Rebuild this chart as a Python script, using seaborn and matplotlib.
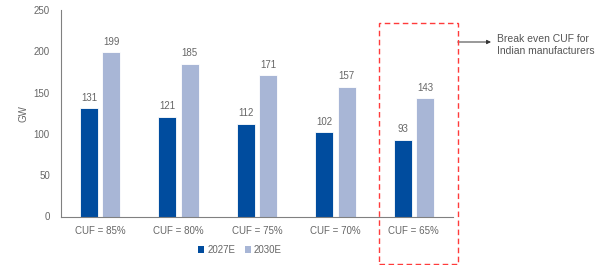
import matplotlib
matplotlib.use("Agg")
import matplotlib.pyplot as plt
import matplotlib.transforms as mtransforms
from matplotlib.patches import Rectangle, Patch
import seaborn as sns
import pandas as pd

categories = ["CUF = 85%", "CUF = 80%", "CUF = 75%", "CUF = 70%", "CUF = 65%"]
series_names = ["2027E", "2030E"]
values_2027 = [131, 121, 112, 102, 93]
values_2030 = [199, 185, 171, 157, 143]
y_ticks = [0, 50, 100, 150, 200, 250]
annotation_text = "Break even CUF for\nIndian manufacturers"

df = pd.DataFrame({
    "cat": categories * 2,
    "series": [series_names[0]] * len(categories) + [series_names[1]] * len(categories),
    "val": values_2027 + values_2030,
})

sns.set_theme(style="white")
plt.rcParams["font.family"] = ["Liberation Sans Narrow", "Liberation Sans", "DejaVu Sans"]

GRAY = "#666666"
AXIS = "#808080"
colors = ["#004C9E", "#A8B6D6"]
FS = 7

fig = plt.figure(figsize=(6, 2.65), dpi=100)
ax = fig.add_axes([61 / 600, 1 - 216.5 / 265, (453 - 61) / 600, (216.5 - 10) / 265])

sns.barplot(data=df, x="cat", y="val", hue="series", palette=colors,
            width=0.574, gap=0.2, ax=ax, legend=False, saturation=1,
            edgecolor="white", linewidth=0.6)

for cont in ax.containers:
    ax.bar_label(cont, fmt="%d", padding=4, fontsize=FS, color=GRAY)

ax.set_ylim(0, 250)
ax.set_xlim(-0.5, len(categories) - 0.5)
ax.set_yticks(y_ticks)
ax.set_yticklabels([str(t) for t in y_ticks], fontsize=FS, color=GRAY)
ax.set_xticks(range(len(categories)))
ax.set_xticklabels(categories, fontsize=FS, color=GRAY)
ax.tick_params(axis="x", length=0, pad=7)
ax.set_xticks([i - 0.5 for i in range(len(categories) + 1)], minor=True)
ax.tick_params(axis="x", which="minor", length=3, width=0.8, color=AXIS, direction="out")
ax.tick_params(axis="y", length=3, width=0.8, color=AXIS, pad=5)
ax.set_xlabel("")
ax.set_ylabel("GW", fontsize=FS, color=GRAY, labelpad=4)

for s in ["top", "right"]:
    ax.spines[s].set_visible(False)
for s in ["left", "bottom"]:
    ax.spines[s].set_color(AXIS)
    ax.spines[s].set_linewidth(0.8)

# legend
handles = [Patch(facecolor=c, edgecolor="none") for c in colors]
fig.legend(handles, series_names, loc="center", bbox_to_anchor=(240 / 600, 1 - 250 / 265),
           ncol=2, frameon=False, fontsize=FS, labelcolor=GRAY,
           handlelength=0.6, handleheight=0.6, handletextpad=0.3, columnspacing=1.0)

# highlight box around last category
trans = mtransforms.blended_transform_factory(ax.transData, fig.transFigure)
last = len(categories) - 1
rect = Rectangle((last - 0.44, 1 - 264 / 265), 1.0, (264 - 23) / 265, transform=trans,
                 fill=False, edgecolor="#FF3B3B", linestyle=(0, (4, 2.5)), linewidth=1.0,
                 clip_on=False)
fig.add_artist(rect)

ax.annotate("", xy=(491 / 600, 1 - 42 / 265), xycoords="figure fraction",
            xytext=(last + 0.56, 1 - 42 / 265), textcoords=trans,
            arrowprops=dict(arrowstyle="-|>", color="#333333", lw=0.7,
                            mutation_scale=6, shrinkA=0, shrinkB=0))
fig.text(497 / 600, 1 - 45 / 265, annotation_text, fontsize=7.5, color="#555555",
         ha="left", va="center", linespacing=1.2)

fig.savefig("out.png", dpi=100)
